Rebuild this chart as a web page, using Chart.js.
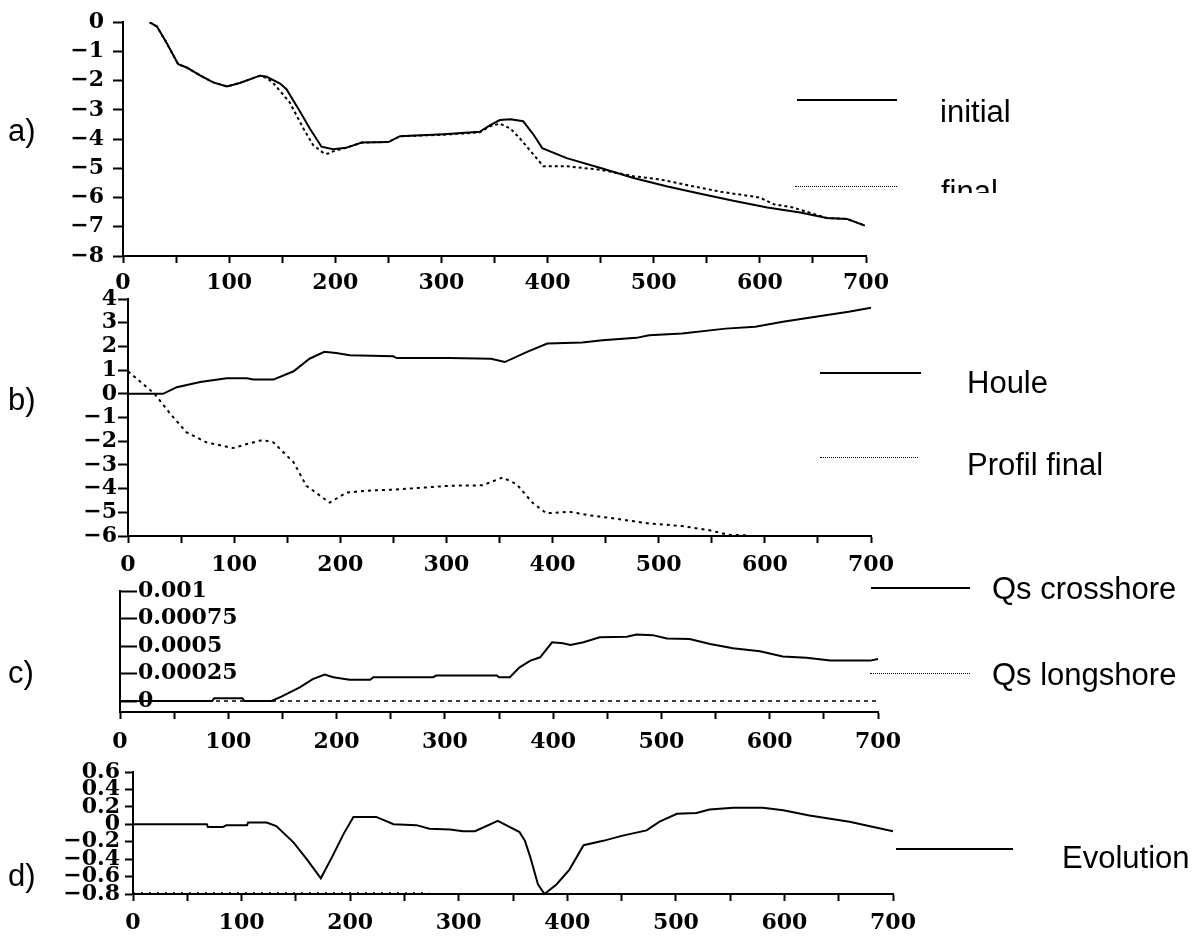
<!DOCTYPE html>
<html>
<head>
<meta charset="utf-8">
<script src="https://cdn.jsdelivr.net/npm/chart.js@4.4.1/dist/chart.umd.min.js"></script>
<style>
  html, body { margin: 0; padding: 0; background: #fff; }
  #page { position: relative; width: 1196px; height: 937px; overflow: hidden; background: #fff; }
  #page canvas { position: absolute; left: 0; }
  .txt { position: absolute; font-family: "Liberation Sans", Arial, sans-serif; font-size: 31px;
         line-height: 31px; color: #000; white-space: nowrap; }
  .solid { position: absolute; height: 0; border-top: 2px solid #000; }
  .dots  { position: absolute; height: 0; border-top: 1px dotted #000; }
</style>
</head>
<body>
<div id="page">
  <canvas id="chartA" width="1196" height="310" style="top:0px"></canvas>
  <canvas id="chartB" width="1196" height="310" style="top:280px"></canvas>
  <canvas id="chartC" width="1196" height="200" style="top:560px"></canvas>
  <canvas id="chartD" width="1196" height="197" style="top:740px"></canvas>

  <div class="txt" style="left:8px;top:115px">a)</div>
  <div class="txt" style="left:8px;top:384px">b)</div>
  <div class="txt" style="left:8px;top:657px">c)</div>
  <div class="txt" style="left:8px;top:860px">d)</div>

  <div class="solid" style="left:797px;top:99px;width:100px"></div>
  <div class="txt" style="left:940px;top:96px">initial</div>
  <div class="dots" style="left:795px;top:186px;width:102px"></div>
  <div class="txt" style="left:941px;top:176px;height:17px;overflow:hidden">final</div>

  <div class="solid" style="left:820px;top:372px;width:101px"></div>
  <div class="txt" style="left:967px;top:367px">Houle</div>
  <div class="dots" style="left:820px;top:457px;width:98px"></div>
  <div class="txt" style="left:967px;top:449px">Profil final</div>

  <div class="solid" style="left:871px;top:587px;width:99px"></div>
  <div class="txt" style="left:992px;top:573px">Qs crosshore</div>
  <div class="dots" style="left:870px;top:673px;width:100px"></div>
  <div class="txt" style="left:992px;top:659px">Qs longshore</div>

  <div class="solid" style="left:896px;top:848px;width:117px"></div>
  <div class="txt" style="left:1062px;top:842px">Evolution</div>
</div>

<script>
// ---- distance along the profile (m) : shared x axis ----
const xTickValues = [0, 50, 100, 150, 200, 250, 300, 350, 400, 450, 500, 550, 600, 650, 700];
const xTickLabels = ['0', '', '100', '', '200', '', '300', '', '400', '', '500', '', '600', '', '700'];

// ---- a) bed profile ----
const initialX = [25, 32, 41, 52, 60, 73, 85, 98, 110, 129, 135, 148, 154, 167, 176, 187, 198, 210, 225, 250,
                  261, 302, 336, 346, 355, 365, 377, 387, 395, 418, 450, 481, 512, 544, 575, 607, 638, 663, 682, 699];
const initialY = [0, -0.15, -0.7, -1.44, -1.55, -1.83, -2.06, -2.2, -2.08, -1.83, -1.86, -2.1, -2.29, -3.07, -3.64, -4.26, -4.35, -4.3, -4.12, -4.1,
                  -3.9, -3.83, -3.75, -3.52, -3.35, -3.32, -3.39, -3.86, -4.31, -4.65, -4.99, -5.33, -5.61, -5.87, -6.11, -6.34, -6.51, -6.7, -6.73, -6.96];
const finalX = [25, 32, 41, 52, 60, 73, 85, 98, 110, 129, 135, 141, 157, 170, 179, 189, 193, 198, 210, 225, 250,
                261, 302, 336, 346, 355, 365, 374, 387, 396, 418, 450, 481, 506, 531, 563, 600, 613, 631, 663, 682, 699];
const finalY = [0, -0.15, -0.7, -1.44, -1.55, -1.83, -2.06, -2.2, -2.08, -1.83, -1.9, -2.06, -2.74, -3.64, -4.2, -4.48, -4.5, -4.42, -4.3, -4.12, -4.1,
                -3.9, -3.85, -3.77, -3.56, -3.47, -3.64, -3.98, -4.54, -4.93, -4.93, -5.05, -5.27, -5.38, -5.57, -5.8, -6.0, -6.23, -6.34, -6.7, -6.73, -6.96];
const yTicksA = [0, -1, -2, -3, -4, -5, -6, -7, -8];
const yLabelsA = ['0', '\u22121', '\u22122', '\u22123', '\u22124', '\u22125', '\u22126', '\u22127', '\u22128'];

// ---- b) wave height and final profile ----
const houleX = [0, 33, 46, 68, 93, 112, 118, 137, 156, 171, 185, 196, 209, 250, 253, 303, 342, 355, 376, 395,
                428, 447, 479, 491, 522, 563, 591, 617, 654, 679, 700];
const houleY = [0, 0, 0.28, 0.5, 0.66, 0.66, 0.6, 0.6, 0.95, 1.48, 1.77, 1.72, 1.63, 1.58, 1.51, 1.51, 1.48, 1.34, 1.77, 2.12,
                2.16, 2.26, 2.36, 2.47, 2.54, 2.75, 2.83, 3.04, 3.29, 3.46, 3.63];
const profilX = [0, 25, 40, 55, 74, 99, 112, 127, 137, 156, 168, 190, 206, 224, 256, 303, 334, 353, 366, 381,
                 394, 416, 435, 460, 491, 522, 547, 566, 585];
const profilY = [0.95, 0, -0.85, -1.62, -2.05, -2.29, -2.12, -1.95, -2.05, -2.89, -3.88, -4.59, -4.17, -4.09, -4.03, -3.88, -3.86, -3.53, -3.81, -4.59,
                 -5.04, -4.98, -5.13, -5.27, -5.47, -5.58, -5.75, -5.95, -5.97];
const yTicksB = [4, 3, 2, 1, 0, -1, -2, -3, -4, -5, -6];
const yLabelsB = ['4', '3', '2', '1', '0', '\u22121', '\u22122', '\u22123', '\u22124', '\u22125', '\u22126'];

// ---- c) sediment transport ----
const crossX = [0, 85, 87, 113, 115, 140, 149, 166, 178, 189, 197, 212, 231, 234, 289, 292, 348, 350, 360, 369,
                379, 388, 399, 409, 416, 428, 443, 468, 477, 492, 505, 526, 545, 566, 591, 612, 634, 656, 693, 700];
const crossY = [0, 0, 0.000025, 0.000025, 0, 0, 0.00004, 0.000125, 0.0002, 0.00024, 0.000217, 0.000193, 0.000193, 0.000217, 0.000217, 0.000232, 0.000232, 0.000217, 0.000217, 0.000307,
                0.000368, 0.000398, 0.000535, 0.000525, 0.000511, 0.000535, 0.00058, 0.000586, 0.000605, 0.0006, 0.00057, 0.000565, 0.00052, 0.00048, 0.000453, 0.000405, 0.000393, 0.000368, 0.000368, 0.000383];
const longX = [0, 700];
const longY = [0, 0];
const yTicksC = [0.001, 0.00075, 0.0005, 0.00025, 0];
const yLabelsC = ['0.001', '0.00075', '0.0005', '0.00025', '0'];

// ---- d) bed evolution ----
const evolX = [0, 68, 69, 83, 86, 105, 106, 123, 132, 148, 160, 173, 184, 194, 203, 224, 240, 261, 273, 292,
               304, 315, 336, 356, 361, 366, 373, 379, 390, 402, 415, 433, 451, 473, 485, 501, 519, 531, 553, 580,
               599, 623, 660, 682, 700];
const evolY = [0, 0, -0.03, -0.03, -0.01, -0.01, 0.02, 0.02, -0.02, -0.21, -0.4, -0.62, -0.36, -0.11, 0.085, 0.085, 0, -0.01, -0.05, -0.06,
               -0.08, -0.08, 0.04, -0.09, -0.19, -0.38, -0.69, -0.8, -0.69, -0.52, -0.24, -0.19, -0.13, -0.07, 0.03, 0.12, 0.13, 0.17, 0.19, 0.19,
               0.16, 0.1, 0.03, -0.03, -0.08];
// dotted reference level along the bottom of panel d
const floorX = [0, 273];
const floorY = [-0.79, -0.79];
const yTicksD = [0.6, 0.4, 0.2, 0, -0.2, -0.4, -0.6, -0.8];
const yLabelsD = ['0.6', '0.4', '0.2', '0', '\u22120.2', '\u22120.4', '\u22120.6', '\u22120.8'];

const tickFont = { family: '"DejaVu Serif", serif', size: 22, weight: 'bold' };

function points(xs, ys) { return xs.map((x, i) => ({ x: x, y: ys[i] })); }

function series(xs, ys, dash, width) {
  return {
    data: points(xs, ys), borderColor: '#000', borderWidth: width || 2,
    borderDash: dash || [], pointRadius: 0, tension: 0, fill: false
  };
}

function panel(id, p) {
  new Chart(document.getElementById(id), {
    type: 'line',
    data: { datasets: p.datasets },
    options: {
      responsive: false, animation: false, events: [],
      layout: { padding: { left: 0, top: p.top, right: p.right, bottom: 0 } },
      plugins: { legend: { display: false }, tooltip: { enabled: false } },
      scales: {
        x: {
          type: 'linear', min: 0, max: 700,
          afterBuildTicks: s => { s.ticks = xTickValues.map(v => ({ value: v })); },
          afterFit: s => { s.height = p.xHeight; },
          ticks: { autoSkip: false, maxRotation: 0, padding: p.xPad, color: '#000', font: tickFont,
                   callback: (v, i) => xTickLabels[i] },
          grid: { drawOnChartArea: false, drawTicks: true, tickLength: 7, tickColor: '#000', tickWidth: 2 },
          border: { display: true, color: '#000', width: 2 }
        },
        y: {
          type: 'linear', min: p.yMin, max: p.yMax,
          afterBuildTicks: s => { s.ticks = p.yTicks.map(v => ({ value: v })); },
          afterFit: s => { s.width = p.yWidth; },
          ticks: { autoSkip: false, padding: p.yPad, mirror: !!p.mirror, color: '#000', font: tickFont,
                   callback: (v, i) => p.yLabels[i] },
          grid: { drawOnChartArea: false, drawTicks: true, tickLength: p.yTick, tickColor: '#000', tickWidth: 2 },
          border: { display: true, color: '#000', width: 2, dash: p.yDash || [] }
        }
      }
    }
  });
}

panel('chartA', {
  datasets: [series(initialX, initialY), series(finalX, finalY, [3, 3])],
  top: 19, right: 330, xHeight: 54, xPad: 7, yWidth: 123, yPad: 9, yTick: 10,
  yMin: -8, yMax: 0, yTicks: yTicksA, yLabels: yLabelsA
});

panel('chartB', {
  datasets: [series(houleX, houleY), series(profilX, profilY, [3, 4])],
  top: 19, right: 325, xHeight: 54, xPad: 9, yWidth: 128, yPad: 1, yTick: 10,
  yMin: -6, yMax: 4, yTicks: yTicksB, yLabels: yLabelsB
});

panel('chartC', {
  datasets: [series(longX, longY, [4, 4], 1.5), series(crossX, crossY)],
  top: 30, right: 318, xHeight: 48, xPad: 10, yWidth: 120, yPad: 18, yTick: -17, mirror: true,
  yMin: -0.0001, yMax: 0.001, yTicks: yTicksC, yLabels: yLabelsC
});

panel('chartD', {
  datasets: [series(floorX, floorY, [2, 6], 2), series(evolX, evolY)],
  top: 32, right: 303, xHeight: 43, xPad: 9, yWidth: 133, yPad: 5, yTick: 8, yDash: [2, 3],
  yMin: -0.8, yMax: 0.6, yTicks: yTicksD, yLabels: yLabelsD
});
</script>
</body>
</html>
